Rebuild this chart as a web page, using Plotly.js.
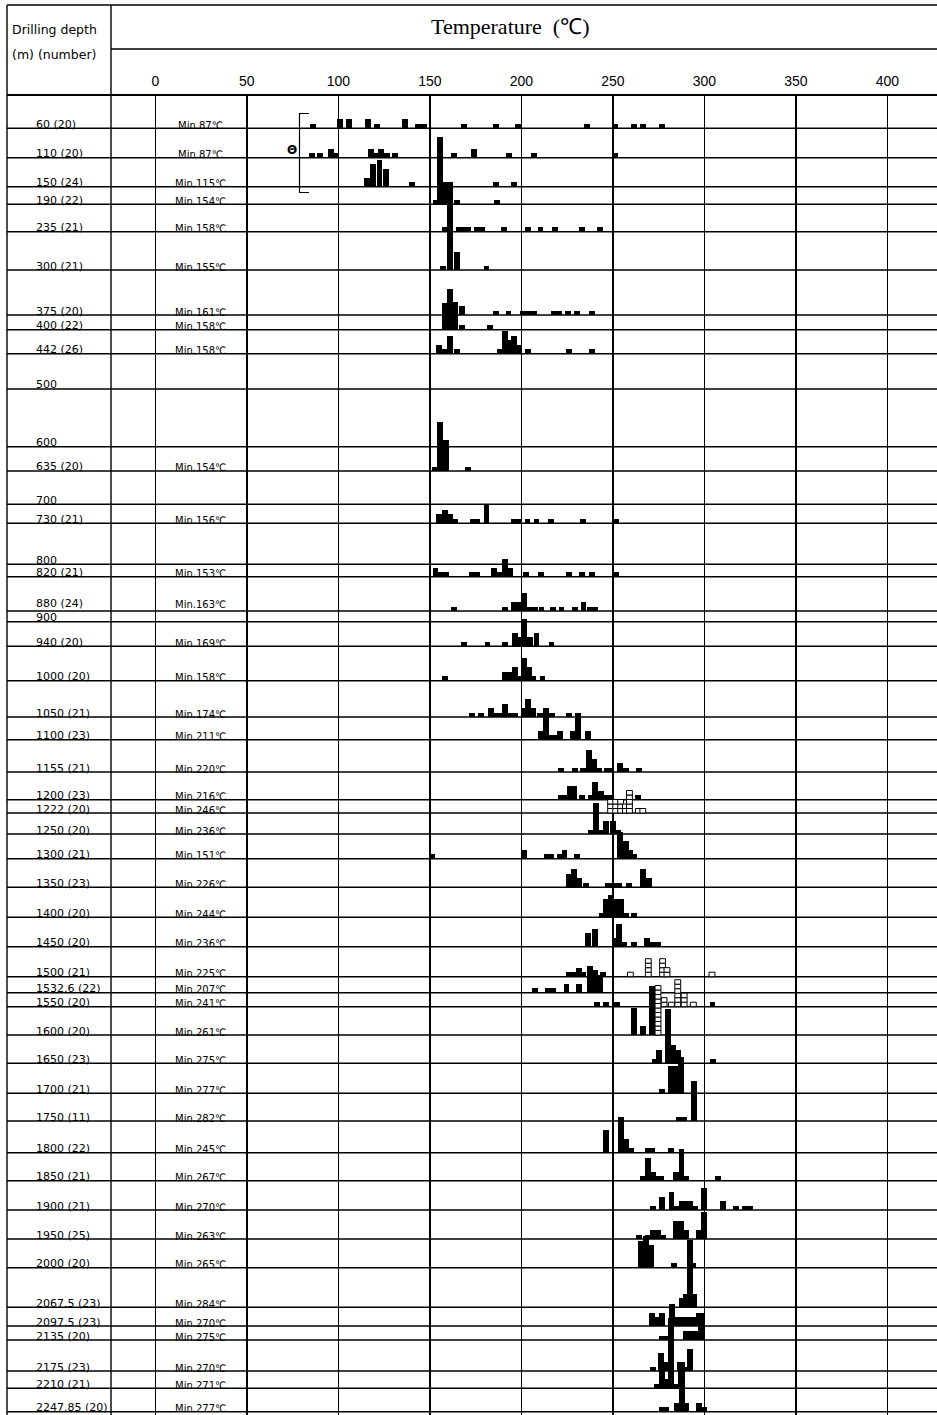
<!DOCTYPE html>
<html><head><meta charset="utf-8">
<script src="https://cdn.plot.ly/plotly-3.0.1.min.js"></script>
<style>html,body{margin:0;padding:0;background:#fff}#chart{width:937px;height:1415px}</style>
</head><body><div id="chart"></div>
<script>
// ---------------- DATA ----------------
const depthLabels = ["60 (20)","110 (20)","150 (24)","190 (22)","235 (21)","300 (21)","375 (20)","400 (22)","442 (26)","500","600","635 (20)","700","730 (21)","800","820 (21)","880 (24)","900","940 (20)","1000 (20)","1050 (21)","1100 (23)","1155 (21)","1200 (23)","1222 (20)","1250 (20)","1300 (21)","1350 (23)","1400 (20)","1450 (20)","1500 (21)","1532.6 (22)","1550 (20)","1600 (20)","1650 (23)","1700 (21)","1750 (11)","1800 (22)","1850 (21)","1900 (21)","1950 (25)","2000 (20)","2067.5 (23)","2097.5 (23)","2135 (20)","2175 (23)","2210 (21)","2247.85 (20)"];
const minLabels = ["Min.87℃","Min.87℃","Min.115℃","Min.154℃","Min.158℃","Min.155℃","Min.161℃","Min.158℃","Min.158℃","","","Min.154℃","","Min.156℃","","Min.153℃","Min.163℃","","Min.169℃","Min.158℃","Min.174℃","Min.211℃","Min.220℃","Min.216℃","Min.246℃","Min.236℃","Min.151℃","Min.226℃","Min.244℃","Min.236℃","Min.225℃","Min.207℃","Min.241℃","Min.261℃","Min.275℃","Min.277℃","Min.282℃","Min.245℃","Min.267℃","Min.270℃","Min.263℃","Min.265℃","Min.284℃","Min.270℃","Min.275℃","Min.270℃","Min.271℃","Min.277℃"];
const tempTicks = [0,50,100,150,200,250,300,350,400];

// histograms: [temperature (°C), number of samples]
const h60 = [[86,1],[101,2],[106,2],[116,2],[121,1],[136.5,2],[143.5,1],[147,1],[168.5,1],[186,1],[198,1],[236,1],[251,1],[261.5,1],[266.5,1],[277,1]];
const h110 = [[85.5,1],[90,1],[96,2],[99,1],[118,2],[121,1],[123.5,2],[126.5,1],[131,1],[155.5,2],[163,1],[174,2],[193.5,1],[207,1],[251.5,1]];
const h150 = [[115.5,2],[119,5],[122.5,6],[126,4],[140.5,1],[155.5,4],[186,1],[196,1]];
const h190 = [[153.5,1],[155.5,15],[158.5,5],[165,1],[186.5,1]];
const h235 = [[158.5,1],[161.2,11],[166,1],[168.5,1],[171,1],[176,1],[178.5,1],[190.5,1],[203.5,1],[210.5,1],[218.5,1],[233,1],[243,1]];
const h300 = [[157,1],[161.2,15],[164.8,4],[181,1]];
const h375 = [[158.5,2],[161.2,4],[164,3],[167.4,2],[186,1],[193,1],[201,1],[204,1],[207,1],[218,1],[220.5,1],[225.5,1],[230.5,1],[238.5,1]];
const h400 = [[158.5,6],[161.2,9],[164,5],[167.4,1],[183,1]];
const h442 = [[155.2,2],[158.5,1],[161.2,4],[164.8,1],[188.4,1],[190.9,5],[193.5,3],[196,4],[198.6,2],[203.5,1],[226,1],[238.5,1]];
const h500 = [];
const h600 = [];
const h635 = [[153,1],[155.8,11],[158.7,7],[170.7,1]];
const h700 = [];
const h730 = [[155.2,2],[158.2,3],[161,2],[163.8,1],[173.3,1],[176,1],[181,4],[196,1],[198.5,1],[203.4,1],[208.3,1],[216.4,1],[233.5,1],[251.7,1]];
const h800 = [];
const h820 = [[153.1,2],[156,1],[159,1],[173.1,1],[175.8,1],[185.2,2],[188.3,1],[191,4],[193.8,2],[202.7,1],[210.7,1],[226,1],[233.2,1],[238.4,1],[251.7,1]];
const h880 = [[163.3,1],[191,1],[196,2],[198.6,2],[201.6,4],[204.5,1],[207.5,1],[211,1],[217.5,1],[222,1],[229.5,1],[234,2],[237.5,1],[240.5,1]];
const h900 = [];
const h940 = [[168.5,1],[181.5,1],[191.3,1],[196.4,3],[199,2],[201.4,6],[204.8,2],[208.3,3],[216.5,1]];
const h1000 = [[158.5,1],[191.3,2],[194,2],[196.7,3],[199,1],[201.4,5],[204,3],[206.3,1],[211.6,1]];
const h1050 = [[173.2,1],[177.9,1],[183.4,2],[186,1],[188.4,1],[191.3,3],[193.5,1],[196.6,1],[201.4,2],[203.7,4],[206.4,2],[210.1,1],[217,1],[226,1]];
const h1100 = [[210.6,2],[213.3,7],[216.1,1],[218.4,1],[221.1,2],[228.2,2],[231.1,6],[236.6,2]];
const h1155 = [[221.7,1],[229.5,1],[233.7,1],[237,5],[239.8,3],[242.3,1],[246.7,1],[249,1],[254.1,2],[257,1],[264.3,1]];
const h1200 = [[221.5,1],[224,1],[226.5,3],[229,3],[233,1],[238,1],[240.5,4],[243.5,2],[246.5,1],[249,1],[264,1]];
const h1222 = [];
const h1250 = [[238,1],[240.8,7],[243.3,1],[246.3,3],[249.9,3],[252.8,1]];
const h1300 = [[151.4,1],[201.4,2],[213.8,1],[216.3,1],[221,1],[223.6,2],[230.5,1],[254,6],[257,4],[259.4,2],[261.8,1]];
const h1350 = [[226,3],[229,4],[231.7,2],[235.4,1],[247.2,1],[250.1,1],[253.6,1],[258.7,1],[266.4,4],[270,2]];
const h1400 = [[244,1],[246.4,4],[249.1,5],[251.9,4],[254.4,4],[257,1],[261.8,1]];
const h1450 = [[236.6,3],[240.4,4],[251.4,2],[253.6,5],[256.1,1],[261.4,1],[268.9,2],[271.8,1],[274.5,1]];
const h1500 = [[226,1],[229,1],[231.7,2],[234,1],[244.5,1]];
const h1532 = [[207.4,1],[214.7,1],[217.5,1],[224.7,2],[231.7,2],[237.7,6],[240.4,5],[243,4]];
const h1550 = [[241.5,1],[246.5,1],[252.5,1],[304.5,1]];
const h1600 = [[261.6,6],[266.3,2],[271.4,11]];
const h1650 = [[272.8,1],[275.4,3],[280.1,12],[282.9,4],[285.6,3],[304.6,1]];
const h1700 = [[276.7,1],[281.6,6],[284.5,6],[287.1,8]];
const h1750 = [[286,1],[289,1],[294.4,9]];
const h1800 = [[246.2,5],[254.4,8],[257.1,3],[259.9,1],[269,1],[271.4,1],[281.8,1]];
const h1850 = [[266.5,1],[269.2,5],[271.9,2],[274.6,1],[276.5,1],[284.7,2],[287.5,7],[290.2,1],[307.5,1]];
const h1900 = [[271.9,1],[276.7,3],[282.1,4],[284.9,1],[287.6,2],[290,2],[292.2,2],[295,1],[299.7,5],[310.4,2],[317.5,1],[322,1],[324.8,1]];
const h1950 = [[264.2,1],[269,1],[271.7,2],[274.5,2],[277.2,1],[284.7,4],[287.3,4],[290,2],[296.8,2],[299.7,6]];
const h2000 = [[265.3,6],[268,7],[270.7,5],[283.4,1],[294,1]];
const h2067 = [[288,2],[290,3],[292.4,15],[294.6,3]];
const h2097 = [[271.4,3],[274.1,2],[276.7,3],[282.2,5],[285.3,2],[288.1,2],[291,2],[294.2,2],[297.2,3]];
const h2135 = [[276.7,1],[279,1],[281.6,5],[290,2],[292.6,2],[295.4,2],[298,6]];
const h2175 = [[272,1],[276.3,4],[279.1,2],[281.6,8],[286.5,2],[289.3,1],[292,5]];
const h2210 = [[274.3,1],[277,4],[279.4,2],[281.6,8],[284.3,1],[287.1,5]];
const h2247 = [[276.7,1],[279,1],[284.9,2],[287.6,11],[290.3,2],[297.2,2],[299.9,1]];

// open (hatched) symbols
const o1222 = [[248.8,3],[251.6,3],[254.3,3],[256.9,2],[259.1,5],[264,1],[266.4,1]];
const o1500 = [[259.6,1],[269.4,4],[277.2,4],[279.6,2],[304.2,1]];
const o1550 = [[278,2],[282,1],[285.5,6],[289,3],[294,1]];
const o1600 = [[274.7,11]];

const darkHists = [h60,h110,h150,h190,h235,h300,h375,h400,h442,h500,h600,h635,h700,h730,h800,h820,h880,h900,h940,h1000,h1050,h1100,h1155,h1200,h1222,h1250,h1300,h1350,h1400,h1450,h1500,h1532,h1550,h1600,h1650,h1700,h1750,h1800,h1850,h1900,h1950,h2000,h2067,h2097,h2135,h2175,h2210,h2247];
const openHists = depthLabels.map(() => []);
openHists[depthLabels.indexOf("1222 (20)")] = o1222;
openHists[depthLabels.indexOf("1500 (21)")] = o1500;
openHists[depthLabels.indexOf("1550 (20)")] = o1550;
openHists[depthLabels.indexOf("1600 (20)")] = o1600;

// ---------------- LAYOUT ----------------
const W = 937, H = 1415, TOP = 95;
// page-pixel y of each row's base line (table layout)
const rowLineY = [128.3,157.7,186.7,204.3,231.7,270,315,329.7,353.7,389,446.7,471,504.3,523.3,564.3,576.7,611,621.7,646.3,680.7,717,739.7,772,799.7,813,834,858.7,887.3,917.3,946.7,976.7,992.7,1006.7,1035,1063.3,1093.3,1121,1152.7,1180.7,1210,1239,1267.7,1307.3,1326,1340,1371,1388.3,1411.7];
const COUNT_PX = 4.5;   // bar height per sample
const BIN_W = 3.2;      // bar width in °C
const X0_PX = 155.3, PX_PER_C = 1.83;
const xRange = [-X0_PX / PX_PER_C, (W - X0_PX) / PX_PER_C];
const LABEL_DROP = 3.5;

const px = p => p / W;
const py = p => (H - p) / (H - TOP);

const dx = [], dy = [], db = [];
darkHists.forEach((hist, i) => hist.forEach(([t, c]) => {
  dx.push(t); db.push(rowLineY[i]); dy.push(-c * COUNT_PX);
}));
const ox = [], oy = [], ob = [];
openHists.forEach((hist, i) => hist.forEach(([t, c]) => {
  for (let k = 0; k < c; k++) { ox.push(t); ob.push(rowLineY[i] - k * COUNT_PX); oy.push(-COUNT_PX); }
}));

const traces = [
  {type:'bar', x:dx, y:dy, base:db, width:BIN_W, marker:{color:'#000', line:{width:0}}, hoverinfo:'skip'},
  {type:'bar', x:ox, y:oy, base:ob, width:BIN_W, marker:{color:'#fff', line:{color:'#000', width:1}}, hoverinfo:'skip'}
];

const LINE = {color:'#000', width:1.4};
const shapes = [];
rowLineY.forEach(y => shapes.push({type:'line', xref:'paper', yref:'y', x0:px(7), x1:1, y0:y, y1:y, line:LINE, layer:'below'}));
// header & column borders
shapes.push({type:'line', xref:'paper', yref:'paper', x0:px(7), x1:1, y0:py(5), y1:py(5), line:LINE});
shapes.push({type:'line', xref:'paper', yref:'paper', x0:px(111), x1:1, y0:py(49), y1:py(49), line:LINE});
shapes.push({type:'line', xref:'paper', yref:'paper', x0:px(7), x1:1, y0:py(95), y1:py(95), line:{color:'#000', width:2}});
shapes.push({type:'line', xref:'paper', yref:'paper', x0:px(7), x1:px(7), y0:py(5), y1:0, line:LINE});
shapes.push({type:'line', xref:'paper', yref:'paper', x0:px(111), x1:px(111), y0:py(5), y1:0, line:LINE});
// bracket
shapes.push({type:'path', xref:'paper', yref:'y', path:`M ${px(309)} 113.5 L ${px(299.5)} 113.5 L ${px(299.5)} 192.5 L ${px(309)} 192.5`, line:{color:'#000', width:1.2}});

const FONT = 'DejaVu Sans, Liberation Sans, sans-serif';
const annotations = [];
annotations.push({xref:'paper', yref:'paper', x:px(510), y:py(26), text:'Temperature  (℃)', showarrow:false, xanchor:'center', yanchor:'middle', font:{family:'Liberation Serif, serif', size:22, color:'#000'}});
annotations.push({xref:'paper', yref:'paper', x:px(10), y:py(30), text:'Drilling depth', showarrow:false, xanchor:'left', yanchor:'middle', font:{family:FONT, size:12.5, color:'#000'}});
annotations.push({xref:'paper', yref:'paper', x:px(10), y:py(54), text:'(m) (number)', showarrow:false, xanchor:'left', yanchor:'middle', font:{family:FONT, size:12.5, color:'#000'}});
annotations.push({xref:'paper', yref:'paper', x:px(292), y:py(150), text:'<b>Θ</b>', showarrow:false, xanchor:'center', yanchor:'middle', font:{family:FONT, size:12, color:'#000'}});
depthLabels.forEach((lab, i) => {
  const lift = (lab === "880 (24)") ? 4 : 0;
  const yl = py(rowLineY[i] + LABEL_DROP);
  annotations.push({xref:'paper', yref:'paper', x:px(35), y:yl, yshift:lift, text:lab, showarrow:false, xanchor:'left', yanchor:'bottom', font:{family:FONT, size:11, color:'#000'}, borderpad:0});
  if (minLabels[i]) annotations.push({xref:'paper', yref:'paper', x:px(200), y:yl, yshift:lift, text:minLabels[i], showarrow:false, xanchor:'center', yanchor:'bottom', font:{family:FONT, size:10, color:'#000'}, borderpad:0});
});

const layout = {
  width:W, height:H, margin:{l:0, r:0, t:TOP, b:0, pad:0},
  paper_bgcolor:'#fff', plot_bgcolor:'#fff', showlegend:false,
  barmode:'overlay', bargap:0,
  xaxis:{range:xRange, side:'top', tickmode:'array', tickvals:tempTicks, ticktext:tempTicks.map(String),
         showgrid:true, gridcolor:'#000', gridwidth:1.5, zeroline:false, showline:false,
         ticks:'outside', ticklen:2, tickcolor:'rgba(0,0,0,0)',
         tickfont:{family:'Liberation Sans, Arial, sans-serif', size:14, color:'#000'}, fixedrange:true},
  yaxis:{range:[H, TOP], visible:false, fixedrange:true},
  shapes, annotations
};

Plotly.newPlot('chart', traces, layout, {staticPlot:true, displayModeBar:false});
</script>
</body></html>
